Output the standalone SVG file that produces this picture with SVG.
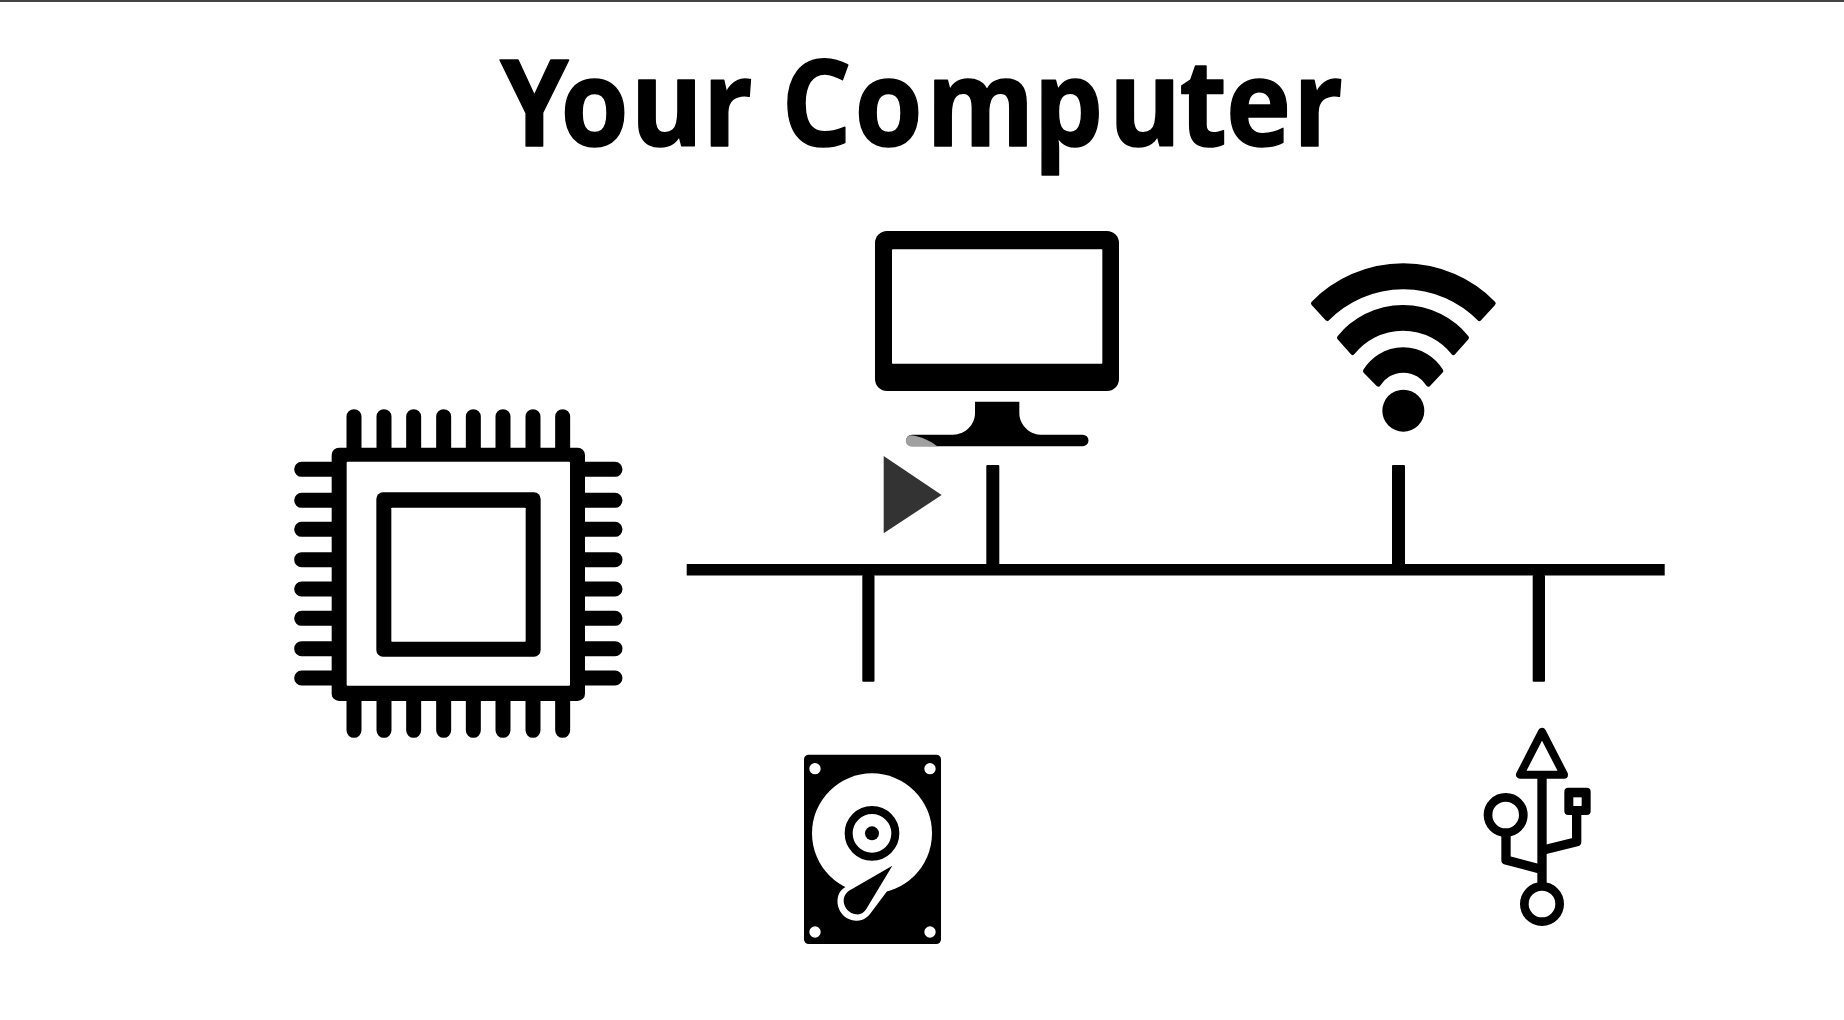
<svg xmlns="http://www.w3.org/2000/svg" width="1844" height="1020" viewBox="0 0 1844 1020">
  <style>
    .k { fill: #000; }
    .w { fill: #fff; }
    .pin { stroke: #000; stroke-width: 45; stroke-linecap: round; fill: none; }
    .usb { stroke: #000; stroke-width: 28; fill: none; stroke-linejoin: round; }
    .tri { stroke: #000; stroke-width: 24; fill: none; stroke-linejoin: round; }
    .ring { stroke: #000; stroke-width: 26; fill: none; }
    .wave { fill: #000; stroke: #000; stroke-width: 14; stroke-linejoin: round; }
    .bus { fill: #000; }
    .title { font-family: "Open Sans", "Liberation Sans", sans-serif; font-weight: 700; font-size: 120px; fill: #000; stroke: #000; stroke-width: 1.5; stroke-linejoin: round; }
  </style>
  <rect width="1844" height="1020" fill="#fff"/>
  <rect width="1844" height="2" fill="#444"/>
  <text id="title" class="title" x="500" y="146" textLength="843" lengthAdjust="spacingAndGlyphs" dx="0 -9 2 0 0 0 3 4 -1 6 -2 -1 2">Your Computer</text>

  <g id="connectors">
    <rect class="bus" x="686.7" y="564" width="978" height="11.5"/>
    <rect class="bus" x="986.3" y="465" width="13" height="100" rx="1"/>
    <rect class="bus" x="1392" y="465" width="13" height="100" rx="1"/>
    <rect class="bus" x="862.3" y="575" width="12.2" height="106.7" rx="1"/>
    <rect class="bus" x="1532.7" y="575" width="12.3" height="106.7" rx="1"/>
  </g>

  <g id="cpu" transform="translate(280,390) scale(0.33333)">
    <path class="pin" d="M222,80V200M312,80V200M401,80V200M491,80V200M580,80V200M669,80V200M759,80V200M848,80V200"/>
    <path class="pin" d="M222,1021V900M312,1021V900M401,1021V900M491,1021V900M580,1021V900M669,1021V900M759,1021V900M848,1021V900"/>
    <path class="pin" d="M65,238H180M65,331H180M65,418H180M65,509H180M65,597H180M65,685H180M65,776H180M65,864H180"/>
    <path class="pin" d="M1005,238H890M1005,331H890M1005,418H890M1005,509H890M1005,597H890M1005,685H890M1005,776H890M1005,864H890"/>
    <rect class="k" x="155" y="173" width="760" height="760" rx="22"/>
    <rect class="w" x="200" y="215" width="670" height="672" rx="3"/>
    <rect class="k" x="289" y="307" width="493" height="493" rx="20"/>
    <rect class="w" x="334" y="353" width="403" height="402" rx="2"/>
  </g>

  <g id="monitor" transform="translate(780,200) scale(0.33333)">
    <rect class="k" x="285" y="93" width="732" height="480" rx="36"/>
    <rect class="w" x="336" y="148" width="631" height="343" rx="2"/>
    <path class="k" d="M585,605H718V640C718,675 750,704 780,704H908A17.5,17.5 0 0 1 908,739H396A17.5,17.5 0 0 1 396,704H520C555,704 585,675 585,640Z"/>
    <path fill="#a0a0a0" d="M392,706C425,710 450,722 472,739H396A16.5,16.5 0 0 1 392,706Z"/>
  </g>

  <g id="play" transform="translate(780,200) scale(0.33333)">
    <polygon fill="#333" points="311,768 485,885 311,1000"/>
  </g>

  <g id="wifi" transform="translate(1270,240) scale(0.33333)">
    <path class="wave" d="M130,190A379,379 0 0 1 670,190L628,236A321,321 0 0 0 172,236Z"/>
    <path class="wave" d="M208,293A246,246 0 0 1 590,293L550,338A192.7,192.7 0 0 0 248,338Z"/>
    <path class="wave" d="M286,393A132.6,132.6 0 0 1 513,393L475,433A88,88 0 0 0 325,433Z"/>
    <circle class="k" cx="400" cy="512" r="63"/>
  </g>

  <g id="disk" transform="translate(780,730) scale(0.33333)">
    <rect class="k" x="72" y="74" width="411" height="568" rx="14"/>
    <circle class="w" cx="105" cy="116" r="17"/>
    <circle class="w" cx="450" cy="116" r="17"/>
    <circle class="w" cx="105" cy="606" r="17"/>
    <circle class="w" cx="450" cy="606" r="17"/>
    <circle class="w" cx="276" cy="310" r="180"/>
    <circle cx="276" cy="310" r="70" fill="none" stroke="#000" stroke-width="24"/>
    <circle class="k" cx="276" cy="310" r="21"/>
    <path class="w" d="M340,403L195,472C155,495 170,570 228,572C250,573 265,560 275,545L320,485Z"/>
    <path class="k" d="M337,407L207,482C180,500 188,545 228,553C245,555 255,545 262,532Z"/>
  </g>

  <g id="usb" transform="translate(1460,700) scale(0.33333)">
    <path class="tri" d="M246,95.5L180,224H312Z"/>
    <path class="usb" d="M246,224V560"/>
    <circle class="ring" cx="246" cy="612" r="53"/>
    <circle class="ring" cx="137" cy="345" r="53"/>
    <path class="usb" d="M138,398V480L240,507"/>
    <path class="usb" d="M350,340V425L250,450"/>
    <rect class="k" x="313" y="263" width="79" height="82" rx="12"/>
    <rect class="w" x="340" y="292" width="25" height="26"/>
  </g>
</svg>
